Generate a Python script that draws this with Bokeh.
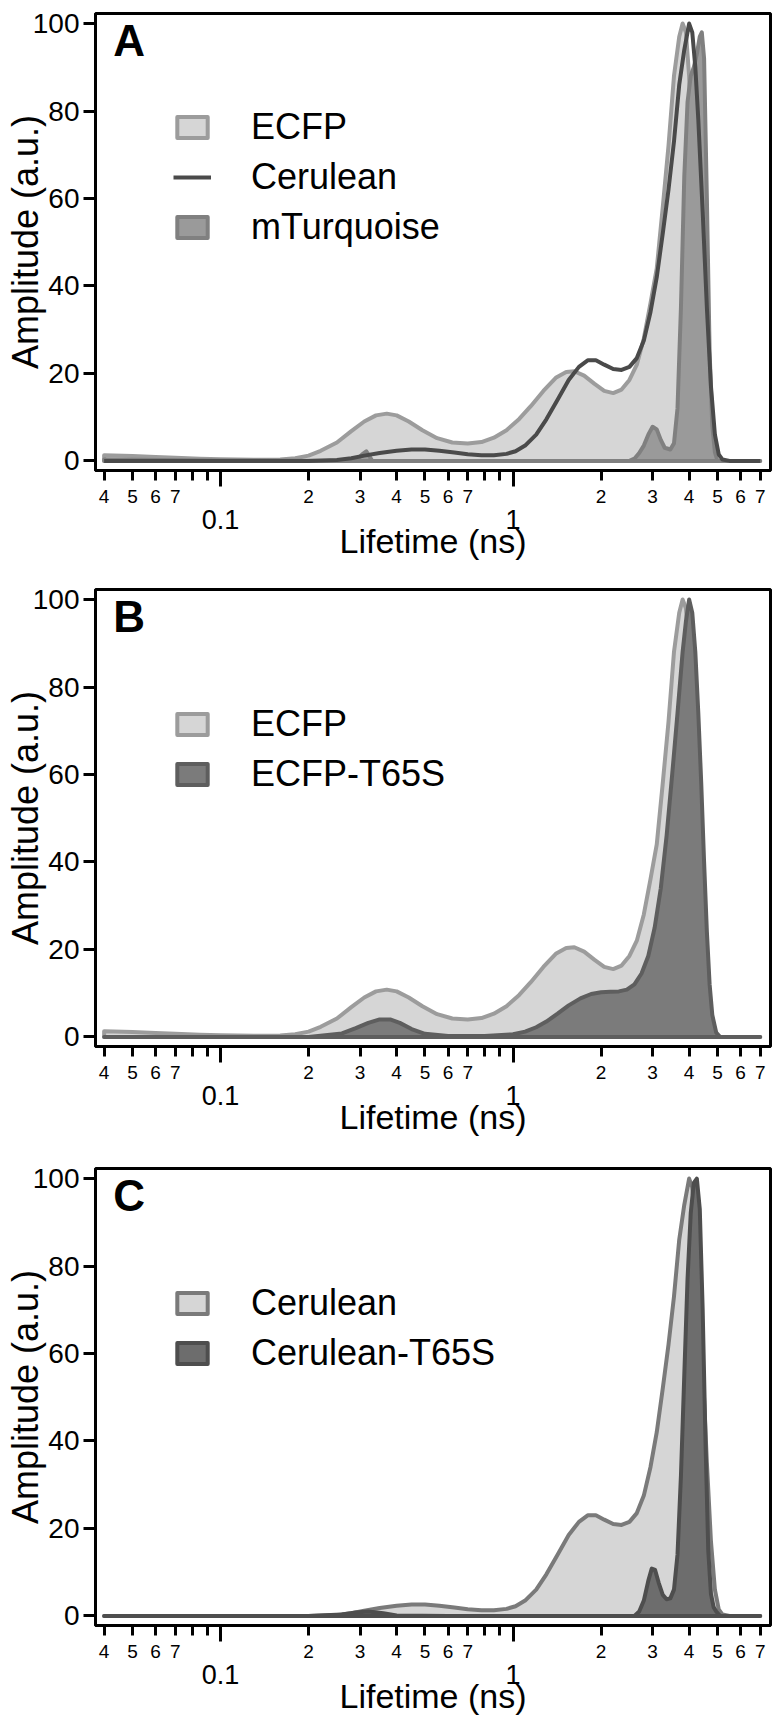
from bokeh.plotting import figure
from bokeh.models import LogAxis, FixedTicker, Legend, LegendItem, Label
from bokeh.layouts import column
from bokeh.embed import file_html
from bokeh.resources import INLINE

FONT = "Liberation Sans"

# ---------------- axes / ticks ----------------
Y_TICKS = [0, 20, 40, 60, 80, 100]
X_MAJOR_TICKS = [0.1, 1]
X_MAJOR_LABELS = ["0.1", "1"]
X_MINOR_TICKS = [0.04, 0.05, 0.06, 0.07, 0.08, 0.09,
                 0.2, 0.3, 0.4, 0.5, 0.6, 0.7, 0.8, 0.9,
                 2, 3, 4, 5, 6, 7]
X_MINOR_LABELED = [0.04, 0.05, 0.06, 0.07, 0.2, 0.3, 0.4, 0.5, 0.6, 0.7,
                   2, 3, 4, 5, 6, 7]
X_MINOR_LABELS = ["4", "5", "6", "7", "2", "3", "4", "5", "6", "7",
                  "2", "3", "4", "5", "6", "7"]
X_LABEL = "Lifetime (ns)"
Y_LABEL = "Amplitude (a.u.)"

# ---------------- data (lifetime in ns, amplitude a.u.) ----------------
ECFP_X = [0.04, 0.05, 0.06, 0.07, 0.085, 0.1, 0.13, 0.16, 0.18, 0.2, 0.22, 0.25,
          0.28, 0.31, 0.34, 0.37, 0.40, 0.44, 0.49, 0.55, 0.62, 0.70, 0.78, 0.86,
          0.95, 1.05, 1.15, 1.27, 1.4, 1.52, 1.62, 1.75, 1.9, 2.05, 2.2, 2.35, 2.5,
          2.65, 2.8, 2.95, 3.1, 3.25, 3.4, 3.55, 3.7, 3.8, 3.9, 4.0, 4.1, 4.2, 4.3,
          4.4, 4.5, 5.0, 6.0, 7.0]
ECFP_Y = [1.3, 1.1, 0.9, 0.7, 0.5, 0.35, 0.25, 0.3, 0.6, 1.2, 2.3, 4.2,
          6.8, 9.0, 10.4, 10.8, 10.4, 9.0, 7.0, 5.2, 4.2, 4.0, 4.3, 5.3,
          7.0, 9.6, 12.5, 16.0, 19.0, 20.3, 20.5, 19.5, 17.6, 16.0, 15.5, 16.3, 18.5,
          22.0, 28.0, 36.0, 44.0, 58.0, 72.0, 88.0, 97.0, 100.0, 98.0, 88.0, 65.0, 35.0, 12.0,
          3.0, 0.5, 0.0, 0.0, 0.0]

CER_X = [0.04, 0.1, 0.2, 0.25, 0.28, 0.31, 0.35, 0.40, 0.45, 0.50, 0.56, 0.63,
         0.70, 0.78, 0.86, 0.95, 1.02, 1.1, 1.2, 1.3, 1.42, 1.55, 1.68, 1.8, 1.92,
         2.05, 2.2, 2.35, 2.5, 2.65, 2.8, 2.95, 3.1, 3.25, 3.4, 3.55, 3.7, 3.85,
         4.0, 4.1, 4.2, 4.3, 4.45, 4.6, 4.75, 4.9, 5.05, 5.2, 5.5, 6.0, 7.0]
CER_Y = [0.0, 0.0, 0.0, 0.2, 0.6, 1.2, 1.8, 2.3, 2.6, 2.6, 2.3, 1.9,
         1.5, 1.3, 1.3, 1.6, 2.2, 3.5, 6.0, 9.5, 14.0, 18.5, 21.5, 23.0, 23.0,
         22.0, 21.0, 20.8, 21.5, 23.5, 27.5, 34.0, 42.0, 52.0, 62.0, 73.0, 86.0, 94.0,
         100.0, 98.0, 90.0, 78.0, 57.0, 35.0, 17.0, 6.0, 1.5, 0.3, 0.0, 0.0, 0.0]

MTQ_X = [0.04, 0.1, 0.29, 0.305, 0.315, 0.33, 0.5, 1.0, 2.5, 2.6, 2.7, 2.8, 2.9,
         3.0, 3.1, 3.2, 3.3, 3.45, 3.55, 3.65, 3.75, 3.85, 3.95, 4.05, 4.15, 4.25,
         4.35, 4.42, 4.5, 4.6, 4.7, 4.8, 4.9, 5.0, 6.0, 7.0]
MTQ_Y = [0.3, 0.1, 0.0, 1.5, 2.2, 0.0, 0.0, 0.0, 0.0, 0.5, 1.8, 3.5, 6.0,
         7.8, 7.2, 4.8, 3.0, 2.6, 4.0, 12.0, 35.0, 65.0, 82.0, 88.0, 90.0, 93.0,
         97.0, 98.0, 92.0, 60.0, 25.0, 8.0, 2.0, 0.0, 0.0, 0.0]

ET65_X = [0.04, 0.1, 0.2, 0.26, 0.29, 0.32, 0.35, 0.38, 0.41, 0.45, 0.5, 0.6, 0.8,
          1.0, 1.1, 1.2, 1.3, 1.42, 1.55, 1.7, 1.85, 2.0, 2.15, 2.3, 2.45, 2.6, 2.75,
          2.9, 3.05, 3.2, 3.35, 3.5, 3.65, 3.8, 3.9, 4.0, 4.1, 4.2, 4.3, 4.4, 4.5,
          4.6, 4.7, 4.8, 4.95, 5.1, 6.0, 7.0]
ET65_Y = [0.0, 0.0, 0.0, 0.8, 2.0, 3.2, 4.0, 4.0, 3.2, 1.8, 0.7, 0.2, 0.2,
          0.6, 1.2, 2.2, 3.5, 5.3, 7.2, 8.8, 9.8, 10.2, 10.3, 10.4, 10.8, 12.0, 14.5,
          18.5, 25.0, 34.0, 46.0, 60.0, 74.0, 88.0, 95.0, 100.0, 97.0, 88.0, 74.0, 58.0, 40.0,
          24.0, 12.0, 5.0, 1.0, 0.0, 0.0, 0.0]

CT65_X = [0.04, 0.1, 0.2, 0.26, 0.29, 0.32, 0.36, 0.4, 0.6, 1.0, 2.0, 2.6, 2.7,
          2.8, 2.9, 2.98, 3.06, 3.15, 3.25, 3.35, 3.45, 3.55, 3.65, 3.75, 3.85, 3.95,
          4.05, 4.15, 4.25, 4.35, 4.45, 4.55, 4.65, 4.75, 4.85, 4.95, 5.1, 6.0, 7.0]
CT65_Y = [0.0, 0.0, 0.0, 0.3, 0.8, 1.0, 0.6, 0.1, 0.0, 0.0, 0.0, 0.0, 1.0,
          3.5, 8.0, 10.8, 10.5, 7.5, 4.8, 3.8, 4.0, 6.0, 14.0, 32.0, 55.0, 77.0,
          92.0, 99.0, 100.0, 93.0, 70.0, 40.0, 15.0, 5.0, 2.0, 1.0, 0.0, 0.0, 0.0]

X_RANGE = (0.03737, 7.59)
Y_RANGE = (-2.2, 102.3)


def make_panel(series, height, border_bottom):
    p = figure(width=782, height=height, x_axis_type="log", x_axis_location=None,
               x_range=X_RANGE, y_range=Y_RANGE, output_backend="svg",
               toolbar_location=None, min_border_left=95, min_border_right=12,
               min_border_top=13, min_border_bottom=border_bottom)
    p.grid.visible = False
    p.outline_line_color = "black"
    p.outline_line_width = 3
    p.background_fill_color = "white"
    p.border_fill_color = "white"

    # y axis
    ya = p.yaxis[0]
    ya.ticker = FixedTicker(ticks=Y_TICKS)
    ya.major_tick_out = 12
    ya.major_tick_in = 0
    ya.minor_tick_line_color = None
    ya.major_tick_line_width = 3
    ya.axis_line_width = 3
    ya.major_label_text_font = FONT
    ya.major_label_text_font_size = "28px"
    ya.major_label_text_color = "black"
    ya.major_label_standoff = 4
    ya.axis_label = Y_LABEL
    ya.axis_label_text_font = FONT
    ya.axis_label_text_font_size = "36px"
    ya.axis_label_text_font_style = "normal"
    ya.axis_label_text_color = "black"
    ya.axis_label_standoff = -16

    # x axis 1: tick marks only
    ax1 = LogAxis(ticker=FixedTicker(ticks=X_MAJOR_TICKS, minor_ticks=X_MINOR_TICKS),
                  major_tick_out=16, major_tick_in=0, minor_tick_out=10, minor_tick_in=0,
                  major_tick_line_width=3, minor_tick_line_width=3, axis_line_width=3,
                  major_label_text_font_size="1px", major_label_standoff=0,
                  major_label_overrides={t: "" for t in X_MAJOR_TICKS})
    # x axis 2: small labels
    ax2 = LogAxis(ticker=FixedTicker(ticks=X_MINOR_LABELED, minor_ticks=[]),
                  major_tick_out=0, major_tick_in=0, minor_tick_out=0, minor_tick_in=0,
                  axis_line_color=None, major_tick_line_color=None, minor_tick_line_color=None,
                  major_label_text_font=FONT, major_label_text_font_size="19px",
                  major_label_text_color="black", major_label_standoff=3,
                  major_label_overrides=dict(zip(X_MINOR_LABELED, X_MINOR_LABELS)))
    # x axis 3: decade labels + axis label
    ax3 = LogAxis(ticker=FixedTicker(ticks=X_MAJOR_TICKS, minor_ticks=[]),
                  major_tick_out=0, major_tick_in=0, minor_tick_out=0, minor_tick_in=0,
                  axis_line_color=None, major_tick_line_color=None, minor_tick_line_color=None,
                  major_label_text_font=FONT, major_label_text_font_size="27px",
                  major_label_text_color="black", major_label_standoff=4,
                  major_label_overrides=dict(zip(X_MAJOR_TICKS, X_MAJOR_LABELS)),
                  axis_label=X_LABEL, axis_label_text_font=FONT,
                  axis_label_text_font_size="34px", axis_label_text_font_style="normal",
                  axis_label_text_color="black", axis_label_standoff=-10)
    p.add_layout(ax1, "below")
    p.add_layout(ax2, "below")
    p.add_layout(ax3, "below")

    rends = {}
    for name, kind, xs, ys, fill, line in series:
        if kind == "patch":
            px = list(xs) + [xs[-1], xs[0]]
            py = list(ys) + [0, 0]
            r = p.patch(px, py, fill_color=fill, fill_alpha=1.0, line_color=line,
                        line_width=4, line_join="round")
        else:
            r = p.line(xs, ys, line_color=line, line_width=4, line_join="round")
        rends[name] = r
    return p, rends


def add_legend(p, rends, names, legend_y):
    items = [LegendItem(label=n, renderers=[rends[n]]) for n in names]
    legend = Legend(items=items, location=(78, legend_y), orientation="vertical",
                    glyph_width=38, glyph_height=26, label_standoff=40,
                    label_height=50, spacing=0, padding=0, margin=0,
                    border_line_color=None, background_fill_alpha=0,
                    label_text_font=FONT, label_text_font_size="36px",
                    label_text_color="black")
    p.add_layout(legend)


def add_letter(p, letter, y):
    p.add_layout(Label(x=0.043, y=y, text=letter, text_font=FONT,
                       text_font_size="44px", text_font_style="bold",
                       text_baseline="top", text_align="left", text_color="black"))


series_a = [
    ("ECFP", "patch", ECFP_X, ECFP_Y, "#d6d6d6", "#9c9c9c"),
    ("mTurquoise", "patch", MTQ_X, MTQ_Y, "#9a9a9a", "#808080"),
    ("Cerulean", "line", CER_X, CER_Y, None, "#4a4a4a"),
]
series_b = [
    ("ECFP", "patch", ECFP_X, ECFP_Y, "#d6d6d6", "#9c9c9c"),
    ("ECFP-T65S", "patch", ET65_X, ET65_Y, "#7b7b7b", "#5e5e5e"),
]
series_c = [
    ("Cerulean", "patch", CER_X, CER_Y, "#d6d6d6", "#7a7a7a"),
    ("Cerulean-T65S", "patch", CT65_X, CT65_Y, "#6d6d6d", "#4e4e4e"),
]

pA, rA = make_panel(series_a, 576, 106)
add_legend(pA, rA, ["ECFP", "Cerulean", "mTurquoise"], 218)
add_letter(pA, "A", 101.7)

pB, rB = make_panel(series_b, 579, 109)
add_legend(pB, rB, ["ECFP", "ECFP-T65S"], 247)
add_letter(pB, "B", 101.7)

pC, rC = make_panel(series_c, 565, 95)
add_legend(pC, rC, ["Cerulean", "Cerulean-T65S"], 247)
add_letter(pC, "C", 101.7)

layout = column(pA, pB, pC, spacing=0)
open("out.html", "w").write(file_html(layout, INLINE))
